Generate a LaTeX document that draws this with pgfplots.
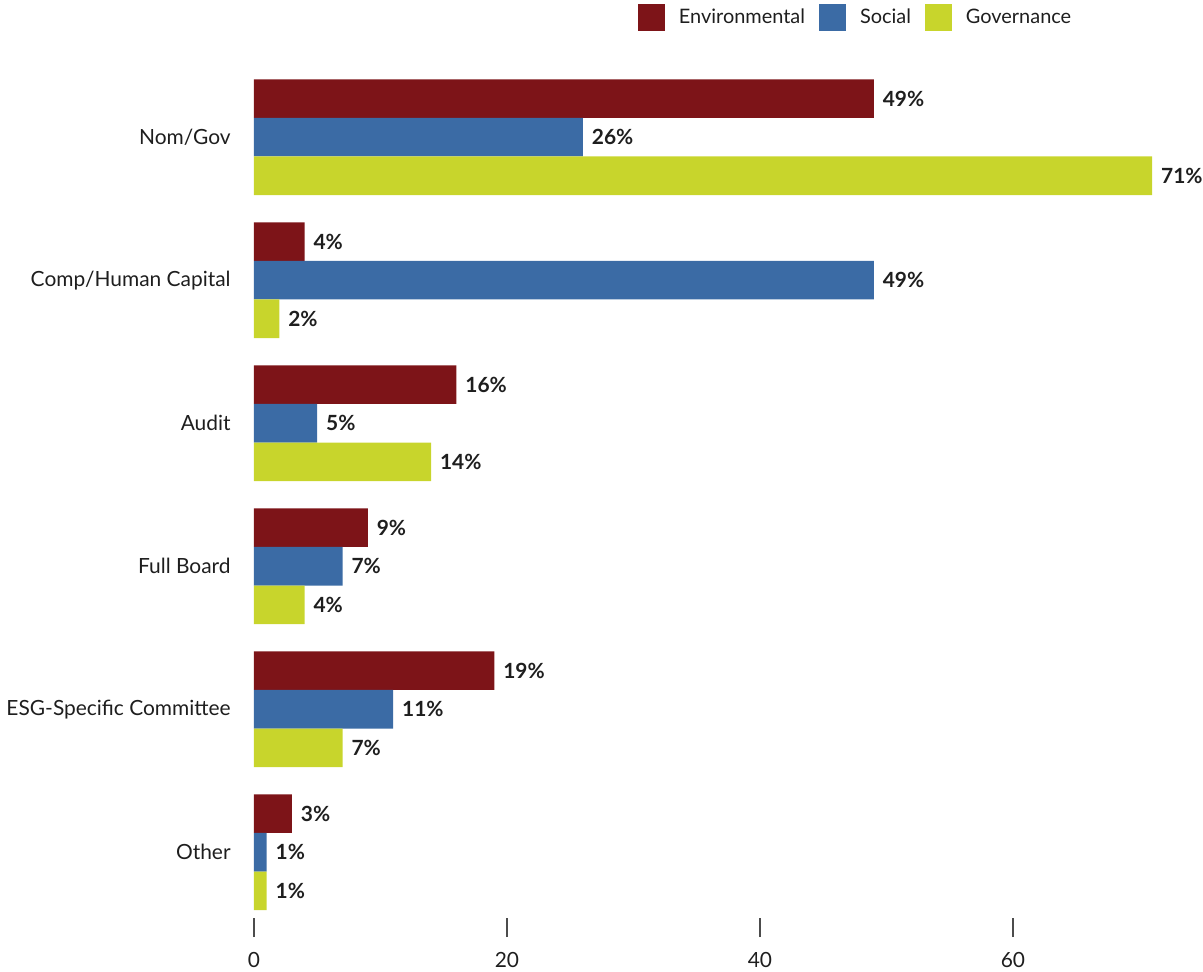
\documentclass[border=0pt]{standalone}
\usepackage{fontspec}
\setmainfont{Lato}
\usepackage{pgfplots}
\pgfplotsset{compat=1.18}
\definecolor{cE}{HTML}{7D1418}
\definecolor{cS}{HTML}{3B6BA5}
\definecolor{cG}{HTML}{C8D52C}
\definecolor{txt}{HTML}{1E1E1E}
\begin{document}
\begin{tikzpicture}
\useasboundingbox (-127bp,-27bp) rectangle (474.5bp,459bp);
\begin{axis}[
  at={(0,0)}, anchor=south west,
  scale only axis,
  width=474.375bp, height=423.3bp,
  xmin=0, xmax=75,
  ymin=-0.46, ymax=5.46,
  xbar, bar width=0.27,
  axis line style={draw=none},
  clip=false,
  xtick={0,20,40,60},
  xtick pos=bottom, tick align=outside,
  major tick length=9.5bp,
  xtick style={draw=black!70, line width=0.6pt},
  xticklabel style={font=\fontsize{10.5}{12}\selectfont, text=txt, yshift=-4bp},
  /pgf/number format/assume math mode=true,
  ytick={0,1,2,3,4,5},
  yticklabels={Other,ESG-Specific Committee,Full Board,Audit,Comp/Human Capital,Nom/Gov},
  ytick style={draw=none},
  yticklabel style={font=\fontsize{10.5}{12}\selectfont, text=txt, inner sep=0pt, xshift=-2bp},
  nodes near coords={\pgfmathprintnumber{\pgfplotspointmeta}\%},
  every node near coord/.append style={font=\bfseries\fontsize{10.5}{12}\selectfont, text=txt, inner sep=0pt, xshift=4.3bp, anchor=west},
  legend columns=3,
  legend image code/.code={\fill[#1] (0bp,-6.75bp) rectangle (13.5bp,6.75bp);},
  legend style={draw=none, fill=none, inner sep=0pt, outer sep=0pt,
    at={(rel axis cs:0.4047,1.0796)}, anchor=north west,
    column sep=7bp, font=\fontsize{10}{12}\selectfont,
    nodes={inner sep=0pt, text=txt}},
]
\addplot[fill=cE, draw=none, bar shift=0.27] coordinates {(49,5) (4,4) (16,3) (9,2) (19,1) (3,0)};
\addplot[fill=cS, draw=none, bar shift=0] coordinates {(26,5) (49,4) (5,3) (7,2) (11,1) (1,0)};
\addplot[fill=cG, draw=none, bar shift=-0.27] coordinates {(71,5) (2,4) (14,3) (4,2) (7,1) (1,0)};
\legend{Environmental,Social,Governance}
\end{axis}
\end{tikzpicture}
\end{document}
